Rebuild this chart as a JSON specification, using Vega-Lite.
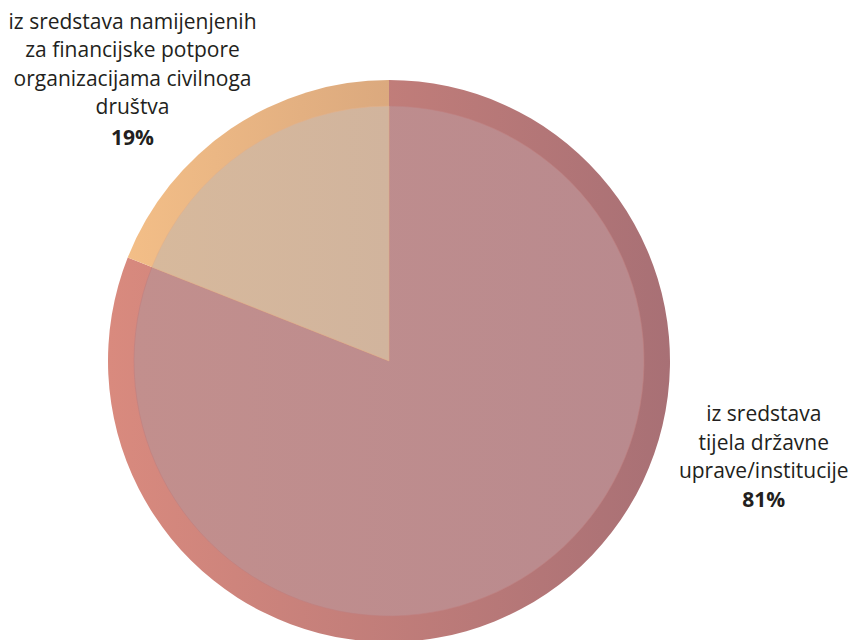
{
  "$schema": "https://vega.github.io/schema/vega-lite/v6.json",
  "autosize": "none",
  "width": 778,
  "height": 558,
  "padding": {"left": 0, "top": 82, "right": 79, "bottom": 0},
  "background": "white",
  "config": {"view": {"stroke": null}},
  "data": {
    "values": [
      {"key": "drzavne", "value": 81, "ord": 1, "pct": "81%", "lines": ["iz sredstava", "tijela državne", "uprave/institucije"]},
      {"key": "civilno", "value": 19, "ord": 2, "pct": "19%", "lines": ["iz sredstava namijenjenih", "za financijske potpore", "organizacijama civilnoga", "društva"]}
    ]
  },
  "transform": [
    {"stack": "value", "groupby": [], "sort": [{"field": "ord", "order": "ascending"}], "as": ["t0", "t1"]},
    {"calculate": "(datum.t0 + datum.t1) / 2", "as": "mid"}
  ],
  "layer": [
    {
      "transform": [{"filter": "datum.key == 'drzavne'"}],
      "mark": {"type": "arc", "outerRadius": 281, "innerRadius": 0, "color": {"gradient": "linear", "x1": 0, "y1": 0, "x2": 1, "y2": 0, "stops": [{"offset": 0, "color": "#d98a7e"}, {"offset": 1, "color": "#a87075"}]}},
      "encoding": {
        "theta": {"field": "t0", "type": "quantitative", "scale": {"domain": [0, 100]}},
        "theta2": {"field": "t1"}
      }
    },
    {
      "transform": [{"filter": "datum.key == 'civilno'"}],
      "mark": {"type": "arc", "outerRadius": 281, "innerRadius": 0, "color": {"gradient": "linear", "x1": 0, "y1": 0, "x2": 1, "y2": 0, "stops": [{"offset": 0, "color": "#f3be87"}, {"offset": 1, "color": "#dba97e"}]}},
      "encoding": {
        "theta": {"field": "t0", "type": "quantitative", "scale": {"domain": [0, 100]}},
        "theta2": {"field": "t1"}
      }
    },
    {
      "transform": [{"filter": "datum.key == 'drzavne'"}],
      "mark": {"type": "arc", "outerRadius": 255, "innerRadius": 0, "stroke": "#c08080", "strokeWidth": 0.6, "color": {"gradient": "linear", "x1": 0, "y1": 0, "x2": 1, "y2": 0, "stops": [{"offset": 0, "color": "#c28f8d"}, {"offset": 1, "color": "#b98a8e"}]}},
      "encoding": {
        "theta": {"field": "t0", "type": "quantitative", "scale": {"domain": [0, 100]}},
        "theta2": {"field": "t1"}
      }
    },
    {
      "transform": [{"filter": "datum.key == 'civilno'"}],
      "mark": {"type": "arc", "outerRadius": 255, "innerRadius": 0, "stroke": "#e2b08a", "strokeWidth": 0.6, "color": {"gradient": "linear", "x1": 0, "y1": 0, "x2": 1, "y2": 0, "stops": [{"offset": 0, "color": "#d7b99c"}, {"offset": 1, "color": "#d1b49d"}]}},
      "encoding": {
        "theta": {"field": "t0", "type": "quantitative", "scale": {"domain": [0, 100]}},
        "theta2": {"field": "t1"}
      }
    },
    {
      "transform": [{"filter": "datum.key == 'civilno'"}],
      "mark": {"type": "text", "radius": 410, "dx": -26, "dy": 7, "align": "center", "baseline": "alphabetic", "font": "Open Sans", "fontSize": 21, "lineHeight": 28.5, "color": "#231f20"},
      "encoding": {
        "theta": {"field": "mid", "type": "quantitative", "scale": {"domain": [0, 100]}},
        "text": {"field": "lines"}
      }
    },
    {
      "transform": [{"filter": "datum.key == 'civilno'"}],
      "mark": {"type": "text", "radius": 410, "dx": -26, "dy": 123, "align": "center", "baseline": "alphabetic", "font": "Open Sans", "fontSize": 21, "fontWeight": "bold", "color": "#231f20"},
      "encoding": {
        "theta": {"field": "mid", "type": "quantitative", "scale": {"domain": [0, 100]}},
        "text": {"field": "pct"}
      }
    },
    {
      "transform": [{"filter": "datum.key == 'drzavne'"}],
      "mark": {"type": "text", "radius": 254, "dx": 232, "dy": -150, "align": "center", "baseline": "alphabetic", "font": "Open Sans", "fontSize": 21, "lineHeight": 28.5, "color": "#231f20"},
      "encoding": {
        "theta": {"field": "mid", "type": "quantitative", "scale": {"domain": [0, 100]}},
        "text": {"field": "lines"}
      }
    },
    {
      "transform": [{"filter": "datum.key == 'drzavne'"}],
      "mark": {"type": "text", "radius": 254, "dx": 232, "dy": -64, "align": "center", "baseline": "alphabetic", "font": "Open Sans", "fontSize": 21, "fontWeight": "bold", "color": "#231f20"},
      "encoding": {
        "theta": {"field": "mid", "type": "quantitative", "scale": {"domain": [0, 100]}},
        "text": {"field": "pct"}
      }
    }
  ]
}
